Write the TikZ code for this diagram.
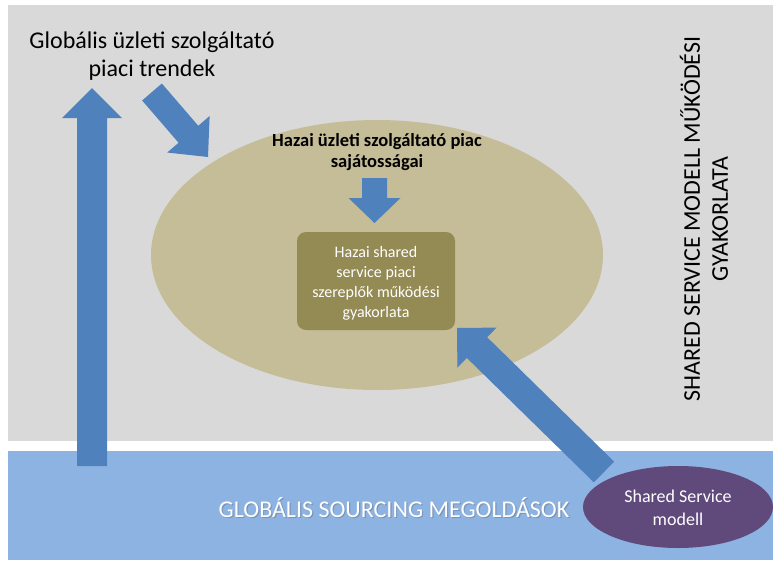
\documentclass[tikz,border=0pt]{standalone}
\usepackage{fontspec}
\setmainfont{Carlito}
\usetikzlibrary{calc,shapes.geometric}

\definecolor{panelgray}{HTML}{D9D9D9}
\definecolor{bandblue}{HTML}{8DB3E2}
\definecolor{arrowblue}{HTML}{4F81BD}
\definecolor{ovaltan}{HTML}{C4BD97}
\definecolor{boxolive}{HTML}{948A54}
\definecolor{modelpurple}{HTML}{604A7B}
\definecolor{shadowgray}{HTML}{7A93B5}

% block arrow from tail #1 to tip #2; #3 half shaft, #4 half head, #5 head length (in pt)
\newcommand\blockarrow[5]{%
  \coordinate (hb) at ($(#2)!#5pt!(#1)$);
  \fill[arrowblue]
    ($(#1)!#3pt!90:(#2)$) -- ($(hb)!#3pt!90:(#2)$) -- ($(hb)!#4pt!90:(#2)$) --
    (#2) --
    ($(hb)!#4pt!-90:(#2)$) -- ($(hb)!#3pt!-90:(#2)$) -- ($(#1)!#3pt!-90:(#2)$) -- cycle;
}

% white text with a soft offset shadow behind it
\newcommand\shadowed[1]{%
  \makebox[0pt][l]{\hspace{1.2pt}\raisebox{-1.4pt}{\color{shadowgray}#1}}#1}

\tikzset{
  lbl/.style={align=center, inner sep=0pt},
  whitelbl/.style={lbl, text=white},
}

\begin{document}
\begin{tikzpicture}[x=1pt, y=-1pt]
  \useasboundingbox (0,0) rectangle (773,560);
  \fill[white] (0,0) rectangle (773,560);

  % upper panel and lower band
  \fill[panelgray] (8,5) rectangle (773,441);
  \fill[bandblue] (8,451) rectangle (773,560);

  % domestic market oval and inner box
  \node[ellipse, fill=ovaltan, minimum width=452pt, minimum height=270pt, inner sep=0pt] (oval) at (377,255) {};
  \node[fill=boxolive, rounded corners=9pt, minimum width=158pt, minimum height=98pt, inner sep=0pt] (box) at (376,281) {};

  % texts
  \node[lbl, font=\fontsize{24}{28}\selectfont] (global) at (152,56) {Globális üzleti szolgáltató\\piaci trendek};
  \node[lbl, font=\bfseries\fontsize{18.5}{21}\selectfont] (hazai) at (377,152) {Hazai üzleti szolgáltató piac\\sajátosságai};
  \node[whitelbl, font=\fontsize{16}{20}\selectfont] (boxtext) at (376,283) {Hazai shared\\service piaci\\szereplők működési\\gyakorlata};
  \node[lbl, rotate=90, font=\fontsize{24}{28}\selectfont] (side) at (704,219) {SHARED SERVICE MODELL MŰKÖDÉSI\\GYAKORLATA};
  \node[whitelbl, font=\fontsize{24}{28}\selectfont] (sourcing) at (394,508) {\shadowed{GLOBÁLIS SOURCING MEGOLDÁSOK}};

  % arrows
  \coordinate (upTail) at (92,466);
  \coordinate (upTip) at (92,88);
  \blockarrow{upTail}{upTip}{15}{30}{30}

  \coordinate (trendTail) at (152,92);
  \coordinate (trendTip) at (208,157);
  \blockarrow{trendTail}{trendTip}{13}{28}{30}

  \coordinate (featTail) at (374.5,178);
  \coordinate (featTip) at (374.5,223);
  \blockarrow{featTail}{featTip}{12.5}{26}{25}

  \coordinate (ssTail) at (604,472);
  \coordinate (ssTip) at (457,328);
  \blockarrow{ssTail}{ssTip}{14.5}{28}{28}

  % shared service model oval
  \node[ellipse, fill=modelpurple, minimum width=190pt, minimum height=82pt, inner sep=0pt] (ssm) at (678,507) {};
  \node[whitelbl, font=\fontsize{18}{23}\selectfont] (ssmtext) at (678,508) {Shared Service\\modell};
\end{tikzpicture}
\end{document}
